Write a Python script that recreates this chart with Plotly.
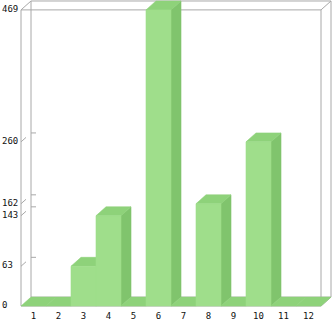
import plotly.graph_objects as go

categories = [1, 2, 3, 4, 5, 6, 7, 8, 9, 10, 11, 12]
values = [0, 0, 63, 143, 0, 469, 0, 162, 0, 260, 0, 0]
ytick_vals = [0, 63, 143, 162, 260, 469]

# styling / geometry constants
W, H = 333, 321
px_per_cat = 25.0
ymax = max(values)
px_per_unit = 299.0 / ymax
DX = 10.0 / px_per_cat          # depth offset in category units
DY = 9.0 / px_per_unit          # depth offset in value units
FRONT = "#9FDE8B"
SIDE = "#80C46D"
TOP = "#8ED27A"
GRID = "#A8A8A8"
FONT = dict(family="DejaVu Sans Mono", size=9, color="#111111")

x0, x1 = categories[0] - 0.5, categories[-1] + 0.5

fig = go.Figure()

def seg(xs, ys, color=GRID, width=1):
    fig.add_trace(go.Scatter(x=xs, y=ys, mode="lines",
                             line=dict(color=color, width=width),
                             hoverinfo="skip", showlegend=False))

# 3D frame
seg([x0, x0], [0, ymax])
seg([x0 + DX, x0 + DX], [DY, ymax + DY])
seg([x0 + DX, x1 + DX], [ymax + DY, ymax + DY])
seg([x1 + DX, x1 + DX], [DY, ymax + DY])
seg([x0, x1], [ymax, ymax])
seg([x1, x1], [0, ymax])
seg([x0, x0 + DX], [ymax, ymax + DY])
seg([x1, x1 + DX], [ymax, ymax + DY])
seg([x0, x1], [0, 0])
seg([x0 + DX, x1 + DX], [DY, DY])
seg([x1, x1 + DX], [0, DY])

# tick marks on side and back walls
for v in ytick_vals:
    if 0 < v < ymax:
        seg([x0, x0 + DX / 2], [v, v + DY / 2])
        seg([x0 + DX, x0 + DX + 0.2], [v + DY, v + DY])

def poly(xs, ys, color):
    fig.add_trace(go.Scatter(x=xs + [xs[0]], y=ys + [ys[0]], mode="lines",
                             fill="toself", fillcolor=color,
                             line=dict(color=color, width=0.6),
                             hoverinfo="skip", showlegend=False))

# bars drawn left to right
for c, v in zip(categories, values):
    l, r = c - 0.5, c + 0.5
    if v > 0:
        poly([r, r + DX, r + DX, r], [0, DY, v + DY, v], SIDE)
    poly([l, r, r + DX, l + DX], [v, v, v + DY, v + DY], TOP)
    if v > 0:
        poly([l, r, r, l], [0, 0, v, v], FRONT)

# y labels (left aligned)
for v in ytick_vals:
    fig.add_annotation(x=0, xref="paper", y=v, yref="y", text=str(v),
                       showarrow=False, xanchor="left", yanchor="middle",
                       yshift=1, font=FONT)

b_margin = 9
plot_h = H - b_margin
front_floor_px = 309
yr_bottom = -(plot_h - front_floor_px) / px_per_unit
yr_top = front_floor_px / px_per_unit
xr_left = x0 - 21 / px_per_cat
xr_right = x0 + (W - 21) / px_per_cat

fig.update_layout(
    width=W, height=H,
    margin=dict(l=0, r=0, t=0, b=b_margin),
    paper_bgcolor="white", plot_bgcolor="white",
    showlegend=False,
    xaxis=dict(range=[xr_left, xr_right], showgrid=False, zeroline=False,
               showline=False, tickmode="array", tickvals=categories,
               ticktext=[str(c) for c in categories], tickfont=FONT,
               ticks="", ticklen=0, fixedrange=True),
    yaxis=dict(range=[yr_bottom, yr_top], showgrid=False, zeroline=False,
               showline=False, showticklabels=False, ticks="", fixedrange=True),
)

fig.write_html("out.html")
